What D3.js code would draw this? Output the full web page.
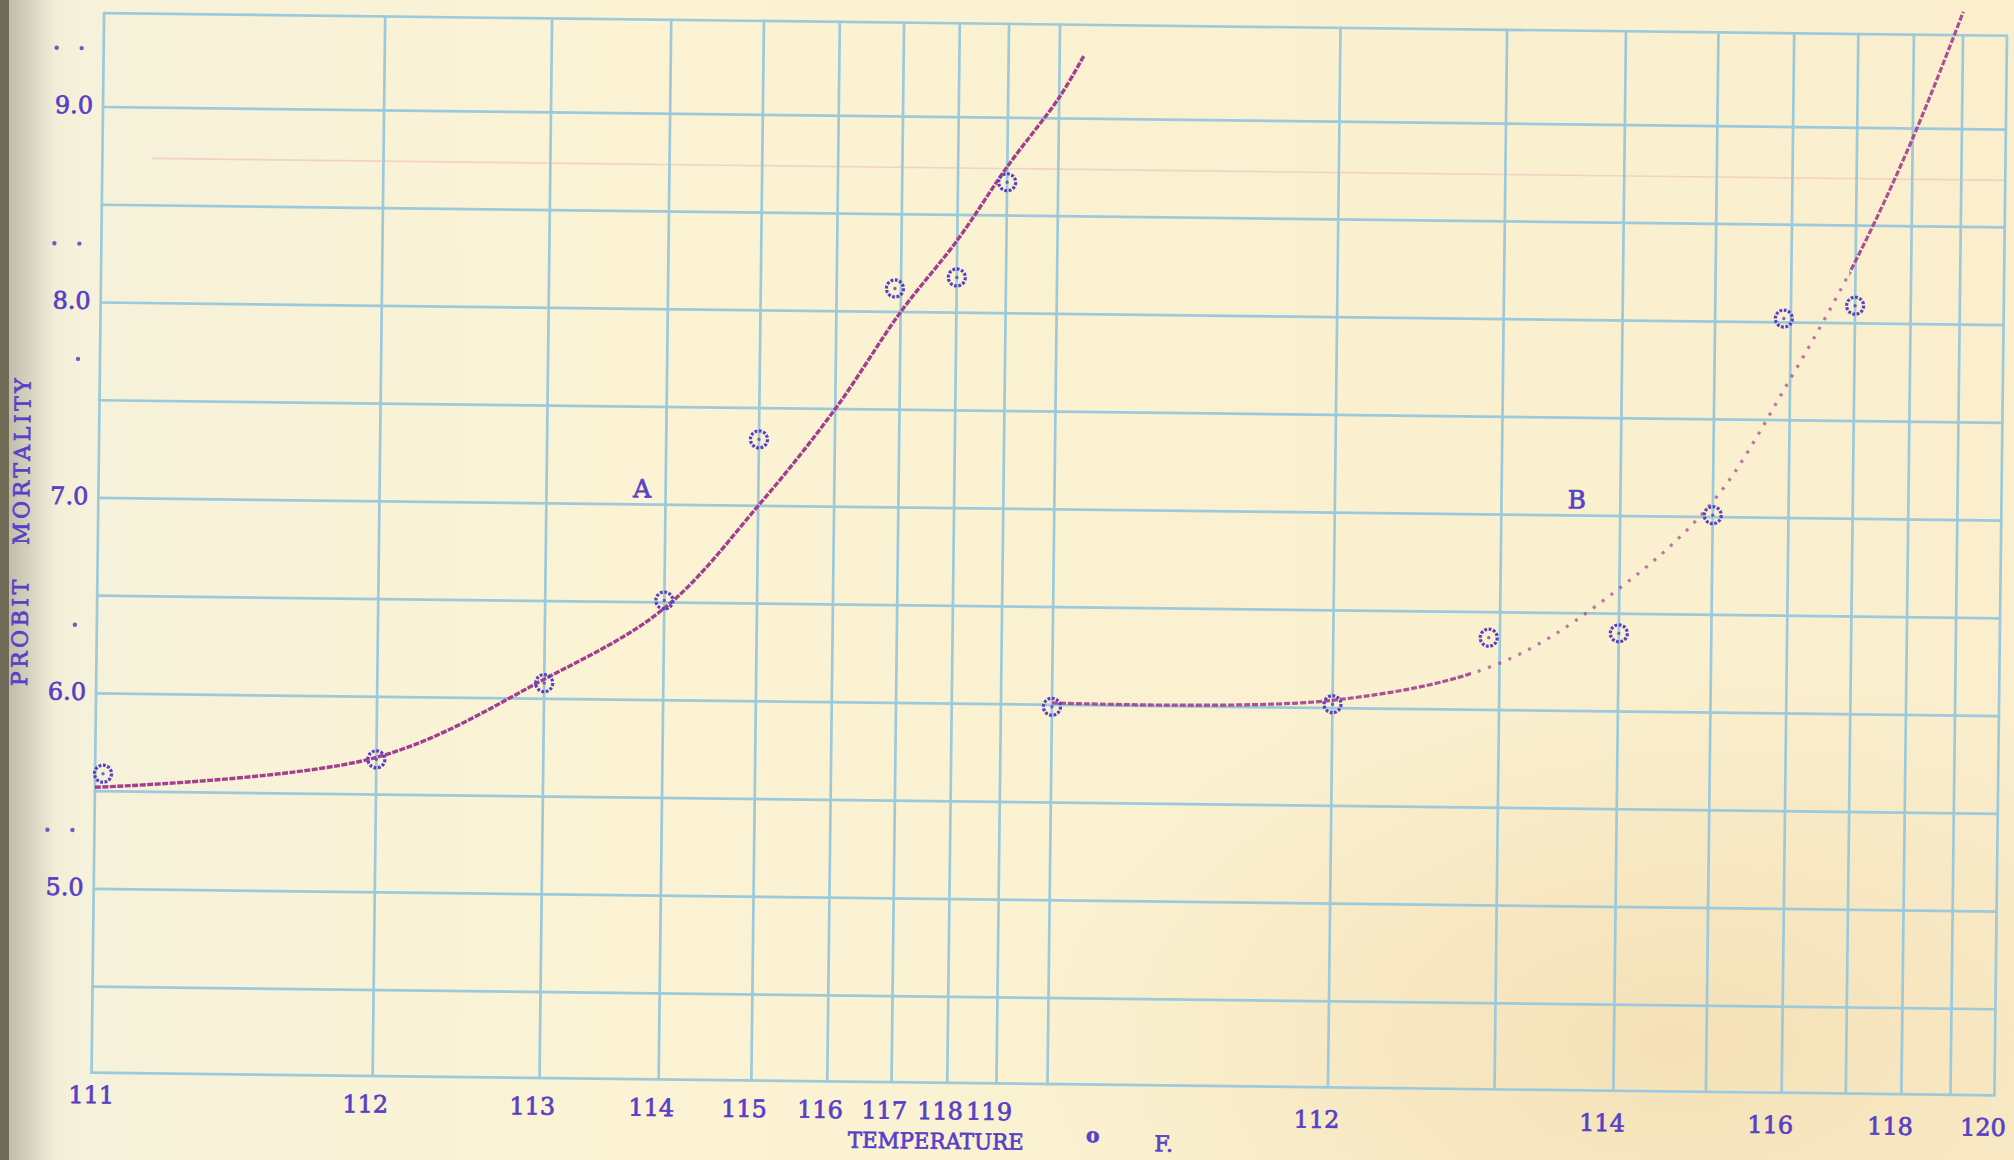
<!DOCTYPE html>
<html>
<head>
<meta charset="utf-8">
<script src="https://cdn.jsdelivr.net/npm/d3@7"></script>
<style>
  body { margin: 0; background: #faf1d4; }
  svg { display: block; }
</style>
</head>
<body>
<div id="chart"></div>
<script>
// ---- data read from the scanned sheet ----
// temperatures in deg F; the x axis is logarithmic in (T - 110)
const gridTempsA = [111, 112, 113, 114, 115, 116, 117, 118, 119];
const gridTempsB = [111, 112, 113, 114, 115, 116, 117, 118, 119, 120];
const tickLabelsA = [111, 112, 113, 114, 115, 116, 117, 118, 119];
const tickLabelsB = [112, 114, 116, 118, 120];
const probitTicks = [5.0, 6.0, 7.0, 8.0, 9.0];
const probitGrid = [4.5, 5.0, 5.5, 6.0, 6.5, 7.0, 7.5, 8.0, 8.5, 9.0];

// observed points
const pointsTempA = [111.02, 112, 113, 114, 115, 116.9, 118, 119];
const pointsProbitA = [5.59, 5.68, 6.08, 6.51, 7.34, 8.12, 8.18, 8.67];
const pointsTempB = [111, 112, 112.92, 114, 115, 115.9, 117];
const pointsProbitB = [5.99, 6.02, 6.37, 6.40, 7.01, 8.02, 8.09];

// hand-drawn fitted curves
const curveTempA = [111, 112, 113, 114, 115, 116, 117, 118, 119, 120.18, 120.77];
const curveProbitA = [5.52, 5.69, 6.10, 6.47, 7.00, 7.50, 8.00, 8.37, 8.75, 9.11, 9.32];
const curveTempB = [111, 112, 113, 114, 115, 116, 117, 118, 119];
const curveProbitB = [6.01, 6.04, 6.24, 6.63, 7.08, 7.71, 8.32, 8.95, 9.60];

// stray typed full stops beside the probit labels: [probit, offset from axis]
const typedDots = [[9.3, -47], [9.3, -22], [8.3, -47], [8.3, -22], [7.71, -22], [6.35, -22], [5.3, -47], [5.3, -22]];

// ---- layout ----
const width = 2014, height = 1160;
const tilt = 0.68;            // the sheet is scanned slightly rotated
const frameTop = 9.48, frameBottom = 4.06;
const tempOrigin = 109.95;

const ink = "#5840c6";
const gridColor = "#9ccadb";
const curveColor = "#a2408e";
const font = "'DejaVu Serif', 'Liberation Serif', serif";

const xA = d3.scaleLog().domain([111 - tempOrigin, 120 - tempOrigin]).range([103, 1052]);
const xB = d3.scaleLog().domain([111 - tempOrigin, 120 - tempOrigin]).range([1059, 2006]);
const y = d3.scaleLinear().domain([4, 9.5]).range([107 + 5 * 195.5, 107 - 0.5 * 195.5]);
const tx = (scale, t) => scale(t - tempOrigin);

const svg = d3.select("#chart")
    .append("svg")
    .attr("width", width)
    .attr("height", height)
    .attr("viewBox", `0 0 ${width} ${height}`);

// paper
const defs = svg.append("defs");
const paper = defs.append("linearGradient").attr("id", "paper");
paper.append("stop").attr("offset", "0%").attr("stop-color", "#ebe7d5");
paper.append("stop").attr("offset", "4%").attr("stop-color", "#f6f1da");
paper.append("stop").attr("offset", "30%").attr("stop-color", "#fbf3d4");
paper.append("stop").attr("offset", "100%").attr("stop-color", "#faeecd");

const stain = defs.append("radialGradient").attr("id", "stain")
    .attr("cx", "0.83").attr("cy", "0.9").attr("r", "0.33");
stain.append("stop").attr("offset", "0%").attr("stop-color", "#f0d5a4").attr("stop-opacity", 0.55);
stain.append("stop").attr("offset", "100%").attr("stop-color", "#f0d5a4").attr("stop-opacity", 0);

const shade = defs.append("linearGradient").attr("id", "shade");
shade.append("stop").attr("offset", "0%").attr("stop-color", "#8d8a78").attr("stop-opacity", 0.55);
shade.append("stop").attr("offset", "100%").attr("stop-color", "#8d8a78").attr("stop-opacity", 0);

svg.append("rect").attr("width", width).attr("height", height).attr("fill", "url(#paper)");
svg.append("rect").attr("width", width).attr("height", height).attr("fill", "url(#stain)");
svg.append("rect").attr("x", 0).attr("width", 55).attr("height", height).attr("fill", "url(#shade)");
svg.append("rect").attr("x", 0).attr("width", 9).attr("height", height).attr("fill", "#6f6b57");

const g = svg.append("g")
    .attr("transform", `rotate(${tilt}, ${xA(111 - tempOrigin)}, ${y(9)})`);

const left = tx(xA, 111), right = tx(xB, 120);

// faint pink ruling on the paper
g.append("line")
    .attr("x1", left + 50).attr("x2", right)
    .attr("y1", y(8.74)).attr("y2", y(8.74))
    .attr("stroke", "#f1c4c6").attr("stroke-width", 1.6).attr("opacity", 0.7);

// grid
const grid = g.append("g").attr("class", "grid")
    .attr("stroke", gridColor).attr("stroke-width", 2.7).attr("stroke-linecap", "round");

grid.selectAll(".h")
    .data(probitGrid.concat([frameTop, frameBottom]))
    .enter().append("line")
    .attr("x1", left).attr("x2", right)
    .attr("y1", d => y(d)).attr("y2", d => y(d));

grid.selectAll(".va")
    .data(gridTempsA)
    .enter().append("line")
    .attr("x1", d => tx(xA, d)).attr("x2", d => tx(xA, d))
    .attr("y1", y(frameTop)).attr("y2", y(frameBottom));

grid.selectAll(".vb")
    .data(gridTempsB)
    .enter().append("line")
    .attr("x1", d => tx(xB, d)).attr("x2", d => tx(xB, d))
    .attr("y1", y(frameTop)).attr("y2", y(frameBottom));

// curves
const line = d3.line().curve(d3.curveCatmullRom.alpha(0.5));
const ptsCurveA = curveTempA.map((t, i) => [tx(xA, t), y(curveProbitA[i])]);
const ptsCurveB = curveTempB.map((t, i) => [tx(xB, t), y(curveProbitB[i])]);

g.append("path")
    .attr("d", line(ptsCurveA))
    .attr("fill", "none")
    .attr("stroke", curveColor)
    .attr("stroke-width", 3.4)
    .attr("stroke-dasharray", "6,1.5");

// curve B: solid start, faint broken middle, solid top
const segB = [
    { from: 110.5, to: 112.8, dash: "6,2", opacity: 0.9 },
    { from: 112.8, to: 116.9, dash: "3,8", opacity: 0.7 },
    { from: 116.9, to: 121, dash: "6,2", opacity: 0.9 }
];
segB.forEach((s, i) => {
    const x0 = s.from < 111 ? tx(xB, 111) - 10 : tx(xB, s.from);
    const x1 = s.to > 120 ? width + 50 : tx(xB, s.to);
    defs.append("clipPath").attr("id", "clipB" + i)
        .append("rect")
        .attr("x", x0).attr("width", x1 - x0)
        .attr("y", -50).attr("height", height + 100);
    g.append("path")
        .attr("d", line(ptsCurveB))
        .attr("clip-path", `url(#clipB${i})`)
        .attr("fill", "none")
        .attr("stroke", curveColor)
        .attr("stroke-width", 3.2)
        .attr("stroke-opacity", s.opacity)
        .attr("stroke-dasharray", s.dash);
});

// observed points
function drawPoints(temps, probits, scale) {
    const pg = g.append("g");
    temps.forEach((t, i) => {
        const cx = tx(scale, t), cy = y(probits[i]);
        pg.append("circle")
            .attr("cx", cx).attr("cy", cy).attr("r", 8.5)
            .attr("fill", "none")
            .attr("stroke", ink)
            .attr("stroke-width", 3.2)
            .attr("stroke-dasharray", "2.8,1.6");
        pg.append("circle")
            .attr("cx", cx).attr("cy", cy).attr("r", 1.7)
            .attr("fill", ink).attr("opacity", 0.8);
    });
}
drawPoints(pointsTempA, pointsProbitA, xA);
drawPoints(pointsTempB, pointsProbitB, xB);

// typed labels (a thin stroke thickens them like typewriter ink)
const text = g.append("g")
    .attr("fill", ink)
    .attr("stroke", ink)
    .attr("stroke-width", 0.7)
    .attr("font-family", font)
    .attr("font-size", 24);

const labelY = y(frameBottom) + 30;
text.selectAll(".xa")
    .data(tickLabelsA)
    .enter().append("text")
    .attr("x", d => tx(xA, d) - (d === 111 ? 0 : 7))
    .attr("y", d => d === 111 ? labelY - 6 : labelY)
    .attr("text-anchor", "middle")
    .attr("dominant-baseline", "middle")
    .text(d => d);

text.selectAll(".xb")
    .data(tickLabelsB)
    .enter().append("text")
    .attr("x", d => tx(xB, d) - 11)
    .attr("y", labelY + 4)
    .attr("text-anchor", "middle")
    .attr("dominant-baseline", "middle")
    .text(d => d);

text.selectAll(".yl")
    .data(probitTicks)
    .enter().append("text")
    .attr("x", left - 10)
    .attr("y", d => y(d))
    .attr("text-anchor", "end")
    .attr("dominant-baseline", "middle")
    .text(d => d.toFixed(1));

g.selectAll(".dot")
    .data(typedDots)
    .enter().append("circle")
    .attr("cx", d => left + d[1])
    .attr("cy", d => y(d[0]))
    .attr("r", 2.2)
    .attr("fill", ink)
    .attr("opacity", 0.85);

text.append("text")
    .attr("transform", `translate(${left - 75}, ${y(6.82)}) rotate(-90)`)
    .attr("text-anchor", "middle")
    .attr("dominant-baseline", "middle")
    .attr("font-size", 22)
    .attr("textLength", 308)
    .attr("lengthAdjust", "spacing")
    .attr("xml:space", "preserve")
    .style("white-space", "pre")
    .text("PROBIT   MORTALITY");

text.append("text")
    .attr("x", 948).attr("y", labelY + 30)
    .attr("text-anchor", "middle")
    .attr("dominant-baseline", "middle")
    .attr("font-size", 22)
    .attr("textLength", 176)
    .attr("lengthAdjust", "spacingAndGlyphs")
    .text("TEMPERATURE");
text.append("text")
    .attr("x", 1105).attr("y", labelY + 22)
    .attr("text-anchor", "middle")
    .attr("dominant-baseline", "middle")
    .attr("font-size", 20)
    .attr("font-weight", "bold")
    .text("o");
text.append("text")
    .attr("x", 1176).attr("y", labelY + 30)
    .attr("text-anchor", "middle")
    .attr("dominant-baseline", "middle")
    .attr("font-size", 22)
    .text("F.");

// curve names
text.append("text")
    .attr("x", tx(xA, 113.78)).attr("y", y(7.07))
    .attr("text-anchor", "middle").attr("dominant-baseline", "middle")
    .attr("font-size", 25)
    .text("A");
text.append("text")
    .attr("x", tx(xB, 113.6)).attr("y", y(7.07))
    .attr("text-anchor", "middle").attr("dominant-baseline", "middle")
    .attr("font-size", 25)
    .text("B");
</script>
</body>
</html>
